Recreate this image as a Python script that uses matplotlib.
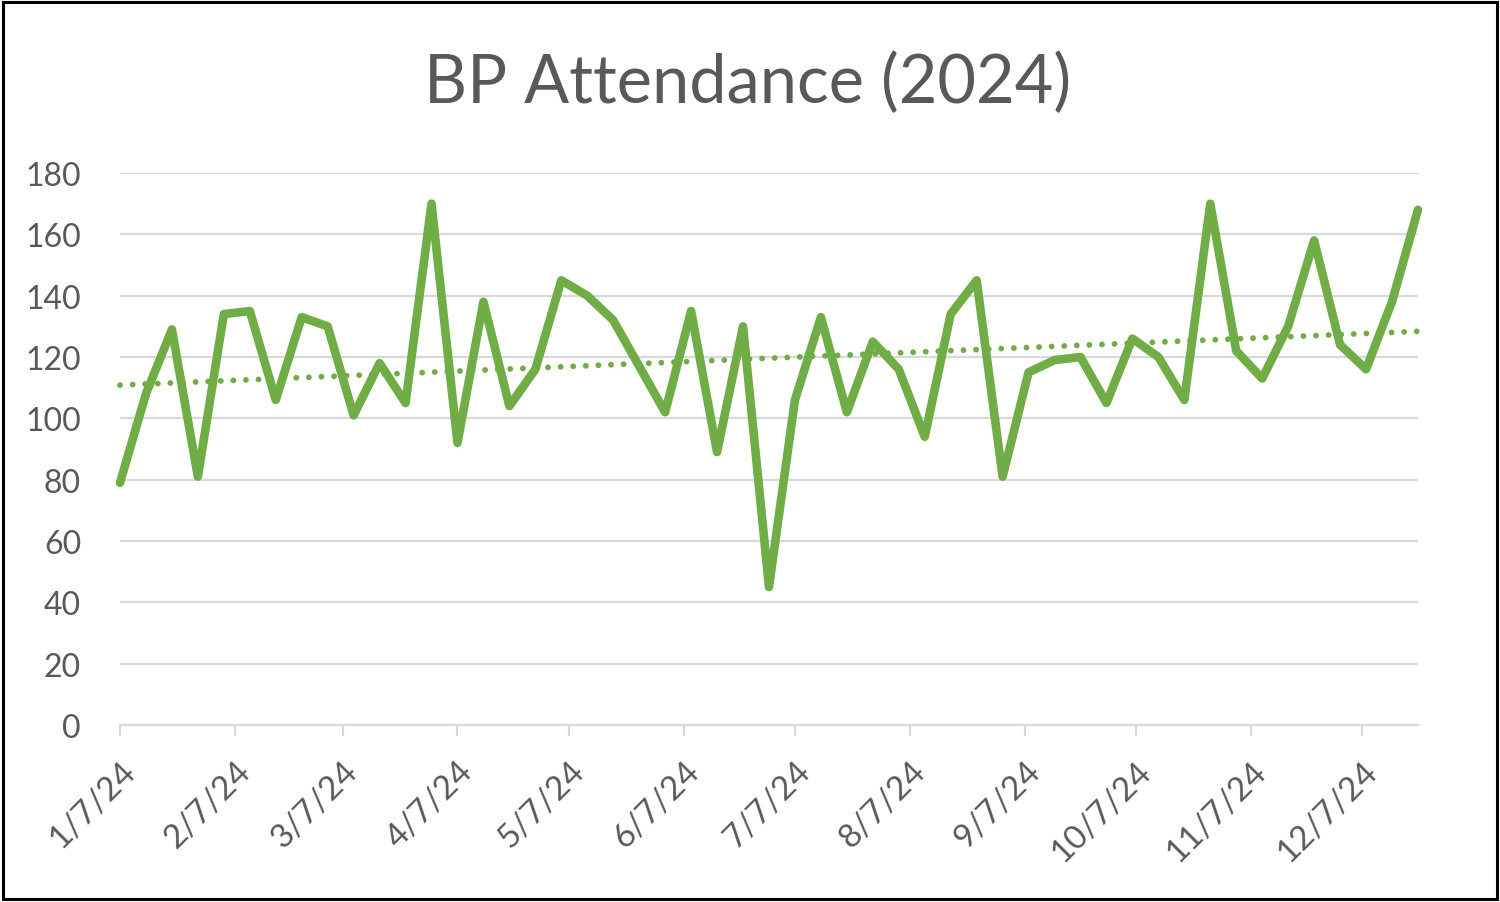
import numpy as np
import matplotlib
matplotlib.use('Agg')
import matplotlib.pyplot as plt
import matplotlib.dates as mdates
import pandas as pd
from matplotlib.patches import Rectangle

# Weekly attendance, one point per Sunday starting 1/7/24
start_date = '2024-01-07'
attendance = [79, 108, 129, 81, 134, 135, 106, 133, 130, 101,
              118, 105, 170, 92, 138, 104, 116, 145, 140, 132,
              117, 102, 135, 89, 130, 45, 106, 133, 102, 125,
              116, 94, 134, 145, 81, 115, 119, 120, 105, 126,
              120, 106, 170, 122, 113, 130, 158, 124, 116, 138, 168]
weeks = pd.date_range(start_date, periods=len(attendance), freq='W-SUN')

# Axis ticks on the 7th of each month
month_ticks = pd.date_range(start_date, periods=12, freq=pd.DateOffset(months=1))
month_labels = [f"{d.month}/{d.day}/{d.year % 100}" for d in month_ticks]
y_ticks = [0, 20, 40, 60, 80, 100, 120, 140, 160, 180]

green = '#70AD47'
grey_text = '#595959'
grid_col = '#D9D9D9'
font = ['Lato', 'DejaVu Sans']

fig = plt.figure(figsize=(15, 9.03), dpi=100)
ax = fig.add_axes([0.08, 0.196, 0.8653, 0.6113])

x_num = mdates.date2num(weeks)
ax.plot(weeks, attendance, color=green, linewidth=6.2, solid_joinstyle='round',
        solid_capstyle='round', zorder=3, clip_on=False)

# Linear trendline
coef = np.polyfit(x_num, attendance, 1)
trend = np.polyval(coef, x_num)
ax.plot(weeks, trend, color=green, linewidth=4.2, linestyle=(0, (0.01, 2.15)),
        dash_capstyle='round', zorder=2, clip_on=False)

ax.set_ylim(0, 180)
ax.set_xlim(weeks[0], weeks[-1])
ax.set_yticks(y_ticks)
ax.set_xticks(month_ticks)
ax.set_xticklabels(month_labels, rotation=45, ha='right', va='top',
                   rotation_mode='anchor')
ax.yaxis.grid(True, color=grid_col, linewidth=1.6)
ax.set_axisbelow(True)

for s in ['left', 'right', 'top']:
    ax.spines[s].set_visible(False)
ax.spines['bottom'].set_color(grid_col)
ax.spines['bottom'].set_linewidth(1.6)

ax.tick_params(axis='y', length=0, pad=28, labelsize=23, labelcolor=grey_text)
ax.tick_params(axis='x', length=8, width=1.6, color=grid_col, pad=14,
               labelsize=24, labelcolor=grey_text)
for lab in ax.get_xticklabels() + ax.get_yticklabels():
    lab.set_family(font)

fig.text(0.4987, 0.907, 'BP Attendance (2024)', ha='center', va='center',
         fontsize=48, color=grey_text, family=font)

# Chart border
fig.patches.append(Rectangle((0.002, 0.003), 0.996, 0.994, transform=fig.transFigure,
                             fill=False, edgecolor='black', linewidth=2.2))

fig.savefig('out.png', dpi=100)
